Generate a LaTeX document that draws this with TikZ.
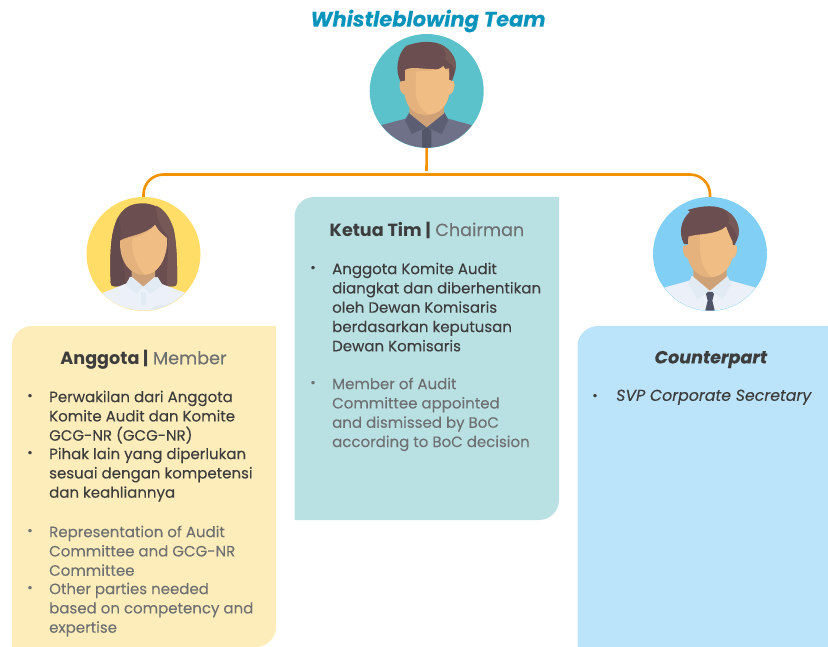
\documentclass[tikz,border=0pt]{standalone}
\usepackage{fontspec}
\setmainfont{Poppins}[FakeBold=0.12,BoldFeatures={FakeBold=0}]
\definecolor{orangeline}{HTML}{F39200}
\definecolor{titleblue}{HTML}{0A94BC}
\definecolor{darktext}{HTML}{3D3D3D}
\definecolor{graytext}{HTML}{6F7072}
\definecolor{panely}{HTML}{FDEDBA}
\definecolor{panelt}{HTML}{B9E0E3}
\definecolor{panelb}{HTML}{BBE3FA}
\definecolor{disct}{HTML}{5BC1CB}
\definecolor{discy}{HTML}{FFDD66}
\definecolor{discb}{HTML}{82CFF5}
\definecolor{hair}{HTML}{6B4E50}
\definecolor{hairdk}{HTML}{634A4D}
\definecolor{hairlt}{HTML}{765856}
\definecolor{skin}{HTML}{F0BE85}
\definecolor{skindk}{HTML}{E5B17C}
\definecolor{neck}{HTML}{CFA177}
\definecolor{shirtg}{HTML}{6E7187}
\definecolor{collarg}{HTML}{5C5E73}
\definecolor{shirtw}{HTML}{ECF1F9}
\definecolor{collarw}{HTML}{E2EAF3}
\definecolor{tie}{HTML}{505468}
\tikzset{
 avatar/.style={circle,minimum size=114pt,inner sep=0,fill=#1},
 wire/.style={draw=orangeline,line width=2.6pt},
 heading/.style={font=\fontsize{17.6}{21}\selectfont,text=darktext,inner sep=0},
 block/.style={anchor=north west,align=left,inner sep=0,font=\fontsize{15}{19.3}\selectfont,text=#1},
 dotmark/.style={inner sep=0,font=\fontsize{13}{14}\selectfont,text=#1},
}
\begin{document}
\begin{tikzpicture}[x=1pt,y=-1pt]
\useasboundingbox (0,0) rectangle (828,647);
% panels
\fill[panely] (12,346) .. controls (12,335) and (21,326) .. (32,326) -- (276,326) -- (276,627) .. controls (276,638) and (267,647) .. (256,647) -- (12,647) -- cycle;
\fill[panelt] (294.5,217) .. controls (294.5,206) and (303,197) .. (314,197) -- (559,197) -- (559,500) .. controls (559,511) and (550,520) .. (539,520) -- (294.5,520) -- cycle;
\fill[panelb] (577.5,346) .. controls (577.5,335) and (587,326) .. (598,326) -- (828,326) -- (828,647) -- (577.5,647) -- cycle;
% title
\node[inner sep=0,font=\fontsize{21}{24}\selectfont\bfseries\itshape,text=titleblue] (title) at (428,21) {Whistleblowing Team};
% avatar discs
\node[avatar=disct] (top) at (426.7,91) {};
\node[avatar=discy] (lady) at (143.5,254) {};
\node[avatar=discb] (guy) at (710,254) {};
% connectors
\coordinate (bus) at (426.5,174.5);
\coordinate (drop) at (426.5,171);
\draw[wire] (top.south) -- (drop);
\draw[wire,rounded corners=20pt] (lady.north) |- (bus) -| (guy.north);
% top man
\begin{scope}[shift={(350,30)},scale=1/3]
\clip (230,183) circle (170);
\fill[shirtg] (85,288) -- (170,265) -- (290,265) -- (375,288) -- (375,360) -- (85,360) -- cycle;
\fill[collarg] (178,247) -- (165,270) -- (185,312) -- (230,292) -- (275,312) -- (295,270) -- (283,247) -- cycle;
\fill[collarg!90!black] (216,302) -- (230,292) -- (244,302) -- (244,360) -- (216,360) -- cycle;
\fill[neck] (178,205) -- (282,205) -- (282,250) -- (230,292) -- (178,250) -- cycle;
\fill[hair] (152,155) .. controls (135,125) and (140,75) .. (168,48) .. controls (195,38) and (225,32) .. (255,38) .. controls (295,45) and (325,85) .. (316,120) .. controls (313,135) and (308,148) .. (304,155) -- cycle;
\fill[hairlt] (255,38) .. controls (295,45) and (325,85) .. (316,120) .. controls (305,100) and (290,95) .. (285,85) .. controls (295,70) and (280,50) .. (255,38) -- cycle;
\fill[skindk] (165,120) .. controls (185,105) and (245,125) .. (297,115) -- (297,150) -- (312,155) .. controls (316,170) and (310,190) .. (297,195) .. controls (290,235) and (260,255) .. (230,255) .. controls (195,255) and (170,235) .. (164,195) .. controls (150,190) and (146,170) .. (150,155) -- (165,152) -- cycle;
\fill[skin] (198,125) .. controls (225,122) and (265,125) .. (280,108) .. controls (285,118) and (292,125) .. (297,128) -- (297,150) -- (312,155) .. controls (316,170) and (310,190) .. (297,195) .. controls (290,230) and (265,252) .. (235,253) .. controls (215,240) and (195,215) .. (197,180) -- cycle;
\end{scope}
% lady
\begin{scope}[shift={(70,170)},scale=1/3]
\clip (220,252) circle (170);
\fill[hair] (122,338) .. controls (120,270) and (118,190) .. (145,140) .. controls (165,105) and (195,100) .. (218,100) .. controls (265,100) and (295,130) .. (310,175) .. controls (320,215) and (322,280) .. (321,338) .. controls (321,346) and (316,349) .. (310,349) -- (133,349) .. controls (126,349) and (122,346) .. (122,338) -- cycle;
\fill[hairdk] (122,338) .. controls (120,270) and (118,190) .. (145,140) .. controls (150,160) and (155,180) .. (152,200) -- (165,330) -- (165,349) -- (133,349) .. controls (126,349) and (122,346) .. (122,338) -- cycle;
\fill[hairlt] (258,107) .. controls (285,118) and (300,145) .. (310,175) .. controls (320,215) and (322,280) .. (321,338) .. controls (321,346) and (316,349) .. (310,349) -- (290,349) -- (295,200) .. controls (270,170) and (258,140) .. (258,107) -- cycle;
\fill[neck] (185,285) -- (255,285) -- (255,320) -- (220,350) -- (185,320) -- cycle;
\fill[skindk] (150,212) .. controls (180,195) and (225,195) .. (255,165) .. controls (265,185) and (280,195) .. (291,205) .. controls (292,270) and (260,315) .. (220,315) .. controls (180,315) and (148,275) .. (150,212) -- cycle;
\fill[skin] (188,205) .. controls (215,198) and (240,185) .. (255,165) .. controls (265,185) and (280,195) .. (291,205) .. controls (292,270) and (262,313) .. (225,314) .. controls (205,295) and (180,250) .. (188,205) -- cycle;
\fill[shirtw] (95,370) -- (170,340) -- (185,320) -- (220,350) -- (255,320) -- (270,340) -- (350,370) -- (350,430) -- (95,430) -- cycle;
\fill[collarw] (180,320) -- (167,345) -- (200,372) -- (220,350) -- (240,372) -- (278,345) -- (262,320) -- (220,350) -- cycle;
\fill[collarw] (212,365) -- (228,365) -- (228,405) -- (212,405) -- cycle;
\fill[collarw] (100,370) .. controls (115,390) and (130,405) .. (155,420) -- (95,420) -- cycle;
\fill[collarw] (340,370) .. controls (325,390) and (310,400) .. (285,405) .. controls (260,405) and (240,410) .. (240,425) -- (345,425) -- cycle;
\end{scope}
% man with tie
\begin{scope}[shift={(640,170)},scale=1/3]
\clip (210,252) circle (170);
\fill[shirtw] (72,353) -- (155,330) -- (265,330) -- (348,353) -- (348,430) -- (72,430) -- cycle;
\fill[collarw] (155,318) -- (145,342) -- (172,388) -- (210,362) -- (248,388) -- (275,342) -- (262,318) -- cycle;
\fill[neck] (160,290) -- (260,290) -- (260,320) -- (210,362) -- (160,320) -- cycle;
\fill[tie] (198,372) -- (203,366) -- (217,366) -- (222,372) -- (217,392) -- (225,425) -- (195,425) -- (203,392) -- cycle;
\fill[hair] (132,222) .. controls (115,190) and (122,150) .. (150,125) -- (143,120) .. controls (175,110) and (215,103) .. (245,115) .. controls (285,130) and (305,170) .. (293,205) -- (284,225) -- cycle;
\fill[hairlt] (245,115) .. controls (285,130) and (305,170) .. (293,205) .. controls (285,180) and (275,165) .. (265,160) .. controls (272,145) and (265,125) .. (245,115) -- cycle;
\fill[skindk] (145,200) .. controls (175,190) and (230,195) .. (258,170) .. controls (265,190) and (272,205) .. (277,215) -- (278,225) -- (291,228) .. controls (292,245) and (288,262) .. (276,266) .. controls (268,300) and (240,322) .. (210,322) .. controls (178,322) and (152,300) .. (144,266) .. controls (132,262) and (127,245) .. (129,228) -- (144,225) -- cycle;
\fill[skin] (180,195) .. controls (210,192) and (240,188) .. (258,170) .. controls (265,190) and (272,205) .. (277,215) -- (278,225) -- (291,228) .. controls (292,245) and (288,262) .. (276,266) .. controls (268,298) and (242,320) .. (215,321) .. controls (192,305) and (175,265) .. (180,195) -- cycle;
\end{scope}
% left panel text
\node[heading] (h1) at (143.5,359.5) {\textbf{Anggota |} \textcolor{graytext}{Member}};
\node[dotmark=darktext] (b1) at (30,397) {•};
\node[block=darktext] (t1) at (49,390.5) {Perwakilan dari Anggota\\Komite Audit dan Komite\\GCG-NR (GCG-NR)};
\node[dotmark=darktext] (b2) at (30,454) {•};
\node[block=darktext] (t2) at (49,447.5) {Pihak lain yang diperlukan\\sesuai dengan kompetensi\\dan keahliannya};
\node[dotmark=graytext] (b3) at (30,532) {•};
\node[block=graytext] (t3) at (49,525.5) {Representation of Audit\\Committee and GCG-NR\\Committee};
\node[dotmark=graytext] (b4) at (30,589) {•};
\node[block=graytext] (t4) at (49,582.5) {Other parties needed\\based on competency and\\expertise};
% middle panel text
\node[heading] (h2) at (427,230) {\textbf{Ketua Tim |} \textcolor{graytext}{Chairman}};
\node[dotmark=darktext] (b5) at (313,269) {•};
\node[block=darktext] (t5) at (332,262.5) {Anggota Komite Audit\\diangkat dan diberhentikan\\oleh Dewan Komisaris\\berdasarkan keputusan\\Dewan Komisaris};
\node[dotmark=graytext] (b6) at (313,384) {•};
\node[block=graytext] (t6) at (332,377.5) {Member of Audit\\Committee appointed\\and dismissed by BoC\\according to BoC decision};
% right panel text
\node[heading] (h3) at (711,359.5) {\textbf{\textit{Counterpart}}};
\node[dotmark=darktext] (b7) at (595,397) {•};
\node[block=darktext,font=\fontsize{15.8}{19.3}\selectfont\itshape] (t7) at (616,389.5) {SVP Corporate Secretary};
\end{tikzpicture}
\end{document}
